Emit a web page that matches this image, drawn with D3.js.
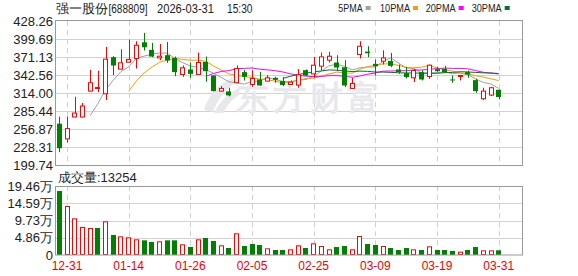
<!DOCTYPE html>
<html><head><meta charset="utf-8">
<script src="https://cdn.jsdelivr.net/npm/d3@7"></script>
<style>
html,body{margin:0;padding:0;background:#fff;}
svg{display:block;}
text{font-family:"Liberation Sans",Arial,sans-serif;}
</style></head>
<body>
<svg id="c" width="578" height="276"></svg>
<script>
const dates = ["12-30","12-31","01-05","01-06","01-07","01-08","01-09","01-12","01-13","01-14",
"01-15","01-16","01-19","01-20","01-21","01-22","01-23","01-26","01-27","01-28",
"01-29","01-30","02-02","02-03","02-04","02-05","02-06","02-09","02-10","02-11",
"02-12","02-13","02-24","02-25","02-26","02-27","03-02","03-03","03-04","03-05",
"03-06","03-09","03-10","03-11","03-12","03-13","03-16","03-17","03-18","03-19",
"03-20","03-23","03-24","03-25","03-26","03-27","03-30","03-31"];
const open  = [265.9,241.8,276.4,276.4,317.4,322.5,313.2,371.0,352.1,363.1,
368.9,394.6,382.6,369.9,374.2,369.9,343.7,351.6,343.7,363.6,
342.1,317.4,316.9,330.6,347.4,327.9,335.8,333.2,338.4,333.2,
327.9,326.9,350.5,344.7,356.8,366.3,362.6,355.2,321.6,375.2,
379.9,360.5,364.7,365.2,351.6,345.8,338.4,347.4,340.5,352.1,
352.6,335.8,340.5,347.4,334.7,305.3,311.1,319.5];
const high  = [277.0,277.0,308.5,298.5,351.0,349.5,387.3,372.6,383.6,398.8,
396.2,409.3,393.6,392.0,395.2,372.0,357.9,362.6,378.4,372.1,
342.6,325.3,322.7,357.9,351.0,350.0,347.9,342.6,340.0,339.5,
334.2,352.1,351.6,371.5,378.4,379.4,374.2,366.3,338.4,396.2,
388.3,367.3,382.0,377.8,359.4,355.8,352.6,350.5,359.4,355.8,
357.3,342.1,342.1,350.0,336.8,322.7,324.2,320.1];
const low   = [220.8,236.0,276.0,276.0,317.0,315.8,303.2,342.6,352.0,362.1,
353.1,381.5,371.0,366.3,362.0,341.0,340.0,338.4,343.0,332.1,
317.0,316.4,309.0,330.0,334.2,324.2,326.0,333.0,330.6,325.3,
326.9,322.7,341.1,338.4,350.0,362.6,348.9,323.7,321.0,368.9,
371.0,342.1,359.4,355.2,344.7,337.4,331.6,334.2,336.8,347.9,
345.8,330.6,334.2,338.4,314.8,303.2,309.5,304.3];
const close = [227.1,258.1,282.7,293.8,330.6,323.0,367.9,357.9,362.1,367.3,
389.9,386.7,372.0,372.6,365.8,347.4,354.2,344.7,362.6,348.9,
317.4,321.6,310.6,353.1,340.0,337.4,326.3,338.4,335.3,326.9,
331.6,343.0,342.1,358.4,371.5,372.5,354.7,326.3,329.5,388.3,
377.3,356.8,369.9,357.3,347.4,339.5,350.0,335.8,358.4,348.9,
346.8,334.7,342.1,343.7,317.4,317.4,322.7,307.9];
// volume in 万 (10,000) shares
const volume = [18.1,13.86,10.37,7.92,7.64,7.64,9.52,5.66,5.28,5.0,
4.43,4.15,3.68,3.87,4.15,4.15,3.02,2.26,4.43,4.81,
3.96,2.73,1.98,6.13,2.55,3.11,2.83,1.89,1.41,1.41,
1.6,2.73,1.98,3.3,2.55,1.6,2.26,2.55,1.6,5.37,
3.11,2.83,2.55,1.98,1.41,1.98,1.6,1.41,2.45,1.41,
1.41,1.13,0.94,1.41,2.26,1.32,1.32,1.3254];
const volDir = "grrrrgrgrrrggrggrgrggrgrgggrggrrgrrrggrrggrgggrgrgggrggrrg".split("");
const priceTicks = [199.74,228.31,256.87,285.44,314.00,342.56,371.13,399.69,428.26];
const volTicks = [0,4.86,9.73,14.59,19.46];
const volTickLabels = ["0","4.86万","9.73万","14.59万","19.46万"];
const xLabels = ["12-31","01-14","01-26","02-05","02-25","03-09","03-19","03-31"];
const maPeriods = [5,10,20,30];
const maNames = ["5PMA","10PMA","20PMA","30PMA"];
const maColors = ["#a0a0a0","#f0a000","#ff00ff","#0a6e2e"];
const titleParts = ["强一股份", "[688809]", "2026-03-31", "15:30"];
const volTitle = "成交量:13254";

const RED = "#ff0000", GREEN = "#008000";
const L = 56, R = 522;
const svg = d3.select("#c");

const x = d3.scaleBand().domain(dates).range([55.45, 55.45 + dates.length * 7.709]).paddingInner(0).paddingOuter(0);
const cx = d => x(d) + x.bandwidth() / 2;
const y = d3.scaleLinear().domain([199.74, 428.26]).range([165.5, 21]);
const yv = d3.scaleLinear().domain([0, 19.46]).range([255, 186.2]);

// grid - horizontal
const gGrid = svg.append("g");
priceTicks.forEach((t, i) => {
  if (i === 0 || i === priceTicks.length - 1) return;
  gGrid.append("line").attr("x1", L).attr("x2", R)
    .attr("y1", Math.round(y(t)) + 0.5).attr("y2", Math.round(y(t)) + 0.5)
    .attr("stroke", "#d2d2d2").attr("stroke-width", 1);
});
volTicks.forEach((t, i) => {
  if (i === 0 || i === volTicks.length - 1) return;
  gGrid.append("line").attr("x1", L).attr("x2", R)
    .attr("y1", Math.round(yv(t)) + 0.5).attr("y2", Math.round(yv(t)) + 0.5)
    .attr("stroke", "#d2d2d2").attr("stroke-width", 1);
});
// grid - vertical dashed
xLabels.forEach(lab => {
  const px = Math.round(cx(lab)) + 0.5;
  [[y.range()[1], y.range()[0]], [yv.range()[1], yv.range()[0]]].forEach(([a, b]) => {
    gGrid.append("line").attr("x1", px).attr("x2", px).attr("y1", a).attr("y2", b)
      .attr("stroke", "#cfcfcf").attr("stroke-dasharray", "5,4");
  });
});

// watermark
const wm = svg.append("g").attr("fill", "#e8e8ec");
wm.append("path").attr("d", "M204,110 C208,96 218,84 232,78 L235,83 C225,90 218,99 213,112 Z M214,113 C220,101 229,92 240,88 L238,96 C231,100 227,106 223,113 Z");
wm.append("text").attr("x", 236).attr("y", 109).attr("font-size", 33).attr("font-weight", "bold")
  .attr("font-family", "'Noto Sans CJK SC',sans-serif").attr("letter-spacing", 4).text("东方财富");

// axes labels
const gAx = svg.append("g").attr("font-size", 13).attr("fill", "#222").attr("text-anchor", "end");
priceTicks.forEach(t => {
  gAx.append("text").attr("x", 53).attr("y", y(t) + 4.5).text(t.toFixed(2));
});
volTicks.forEach((t, i) => {
  gAx.append("text").attr("x", 53).attr("y", yv(t) + 4.5).text(volTickLabels[i]);
});
const gX = svg.append("g").attr("font-size", 12).attr("fill", "#ee0000").attr("text-anchor", "middle");
xLabels.forEach(lab => gX.append("text").attr("x", cx(lab)).attr("y", 270).text(lab));

// MAs
const lineGen = d3.line().x(d => cx(d.date)).y(d => y(d.v));
maPeriods.forEach((n, k) => {
  const pts = [];
  for (let i = n - 1; i < close.length; i++) {
    pts.push({ date: dates[i], v: d3.mean(close.slice(i - n + 1, i + 1)) });
  }
  svg.append("path").datum(pts).attr("d", lineGen).attr("fill", "none")
    .attr("stroke", maColors[k]).attr("stroke-width", 1);
});

// candles
const gC = svg.append("g");
dates.forEach((d, i) => {
  const up = close[i] >= open[i];
  const col = up ? RED : GREEN;
  const c = Math.round(cx(d)) + 0.5;
  const yo = y(open[i]), yc = y(close[i]), yh = y(high[i]), yl = y(low[i]);
  const top = Math.min(yo, yc), bot = Math.max(yo, yc);
  gC.append("line").attr("x1", c).attr("x2", c).attr("y1", yh).attr("y2", yl)
    .attr("stroke", col).attr("stroke-width", 1);
  const left = Math.round(cx(d) - 2.5);
  if (up) {
    const h = Math.max(bot - top, 1);
    gC.append("rect").attr("x", left + 0.5).attr("y", top).attr("width", 4).attr("height", h)
      .attr("fill", "#fff").attr("stroke", col).attr("stroke-width", 1);
  } else {
    gC.append("rect").attr("x", left).attr("y", top).attr("width", 5).attr("height", Math.max(bot - top, 1))
      .attr("fill", col);
  }
});

// volume bars
const gV = svg.append("g");
dates.forEach((d, i) => {
  const left = Math.round(cx(d) - 2.5);
  const t = yv(volume[i]);
  if (volDir[i] === "r") {
    gV.append("rect").attr("x", left + 0.5).attr("y", t + 0.5).attr("width", 4).attr("height", Math.max(yv(0) - t - 1, 0.5))
      .attr("fill", "#fff").attr("stroke", RED).attr("stroke-width", 1);
  } else {
    gV.append("rect").attr("x", left).attr("y", t).attr("width", 5).attr("height", yv(0) - t).attr("fill", GREEN);
  }
});

// borders
const gB = svg.append("g").attr("fill", "none").attr("stroke", "#999").attr("stroke-width", 1);
gB.append("rect").attr("x", L - 0.5).attr("y", 20.5).attr("width", R - L + 1).attr("height", 145);
gB.append("rect").attr("x", L - 0.5).attr("y", 186.5).attr("width", R - L + 1).attr("height", 68.5);

// title (segments)
const gT = svg.append("g").attr("font-size", 13).attr("fill", "#222");
gT.append("text").attr("x", 56).attr("y", 13).text(titleParts[0]);
const titleX = [null, 108.5, 157, 227];
const titleW = [null, 39, 57, 25.5];
[1, 2, 3].forEach(k => {
  gT.append("text").attr("x", titleX[k]).attr("y", 13).attr("font-size", 12.5)
    .attr("textLength", titleW[k]).attr("lengthAdjust", "spacingAndGlyphs").text(titleParts[k]);
});
svg.append("text").attr("x", 58).attr("y", 182).attr("font-size", 13).attr("fill", "#222").text(volTitle);

// legend
const legX = [338.3, 380, 425.7, 471.7];
const legW = [24.3, 30, 30, 30];
const gL = svg.append("g").attr("font-size", 11).attr("fill", "#222");
maNames.forEach((nm, k) => {
  gL.append("text").attr("x", legX[k]).attr("y", 12)
    .attr("textLength", legW[k]).attr("lengthAdjust", "spacingAndGlyphs").text(nm);
  gL.append("rect").attr("x", legX[k] + legW[k] + 3).attr("y", 6).attr("width", 5).attr("height", 4).attr("fill", maColors[k]);
});
</script>
</body></html>
